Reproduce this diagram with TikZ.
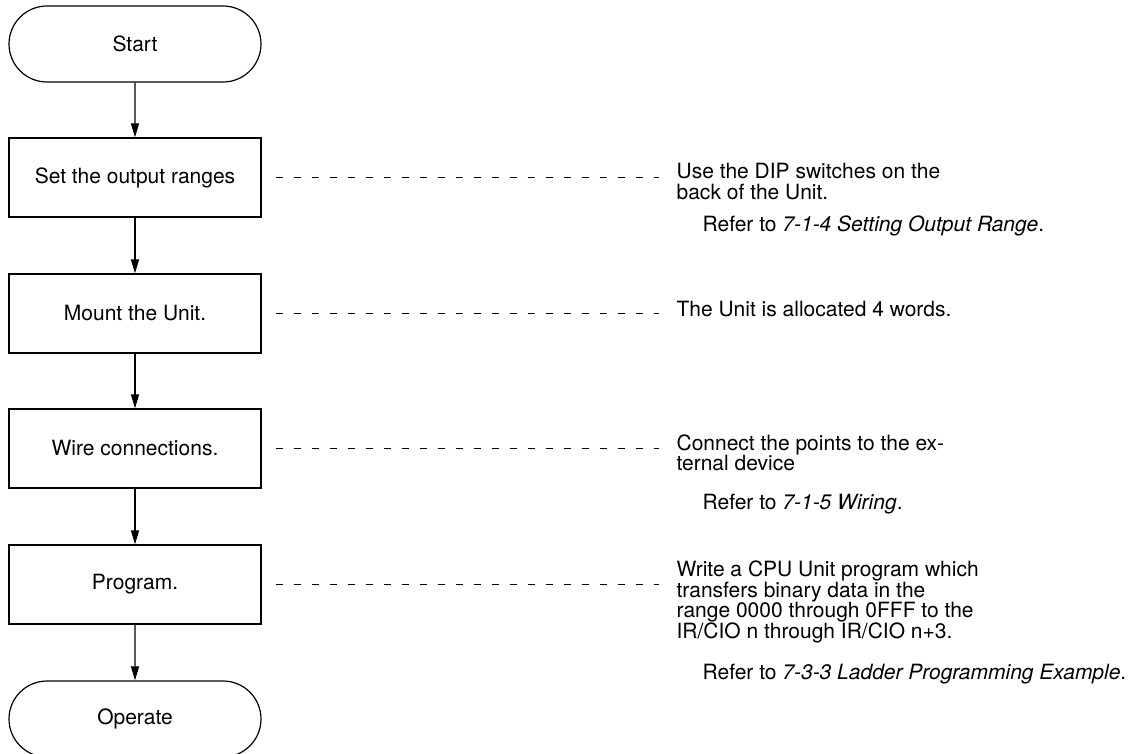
\documentclass[tikz,border=0pt]{standalone}
\usepackage{fontspec}
\setmainfont{TeX Gyre Heros}
\usepackage{tikz}
\usetikzlibrary{arrows.meta,shapes.misc}

\tikzset{
  terminal/.style={draw,rounded rectangle,minimum width=252pt,minimum height=76pt,inner sep=0pt},
  stepbox/.style={draw,rectangle,minimum width=252pt,minimum height=79pt,inner sep=0pt},
  leader/.style={dash pattern=on 7pt off 11pt,line width=1pt,shorten <=14pt,shorten >=17pt},
  note/.style={anchor=base west,align=left,inner sep=0pt},
}

\begin{document}
\begin{tikzpicture}[x=1pt,y=-1pt,>={Triangle[length=14pt,width=8pt]},line width=1.2pt,
  font=\fontsize{21}{20.5}\selectfont]
  \useasboundingbox (0,0) rectangle (1135,754);
  \node[terminal] (start) at (135,44) {Start};
  \node[stepbox] (ranges) at (135,177.5) {Set the output ranges};
  \node[stepbox] (mount) at (135,313.5) {Mount the Unit.};
  \node[stepbox] (wire) at (135,448.5) {Wire connections.};
  \node[stepbox] (prog) at (135,584.5) {Program.};
  \node[terminal] (operate) at (135,719) {Operate};
  \draw[->] (start) -- (ranges);
  \draw[->] (ranges) -- (mount);
  \draw[->] (mount) -- (wire);
  \draw[->] (wire) -- (prog);
  \draw[->] (prog) -- (operate);
  \node[note] (dipnote) at (676,199.3) {Use the DIP switches on the\\back of the Unit.};
  \node[note] (dipref) at (702,231.7) {Refer to \textit{7-1-4 Setting Output Range}.};
  \node[note] (mountnote) at (676,316.7) {The Unit is allocated 4 words.};
  \node[note] (wirenote) at (676,470.7) {Connect the points to the ex-\\ternal device};
  \node[note] (wireref) at (702,509.3) {Refer to \textit{7-1-5 Wiring}.};
  \node[note] (prognote) at (676,638.3) {Write a CPU Unit program which\\transfers binary data in the\\range 0000 through 0FFF to the\\IR/CIO n through IR/CIO n+3.};
  \node[note] (progref) at (702,679) {Refer to \textit{7-3-3 Ladder Programming Example}.};
  \draw[leader] (ranges.east) -- (ranges.east -| dipnote.west);
  \draw[leader] (mount.east) -- (mount.east -| mountnote.west);
  \draw[leader] (wire.east) -- (wire.east -| wirenote.west);
  \draw[leader] (prog.east) -- (prog.east -| prognote.west);
\end{tikzpicture}
\end{document}
